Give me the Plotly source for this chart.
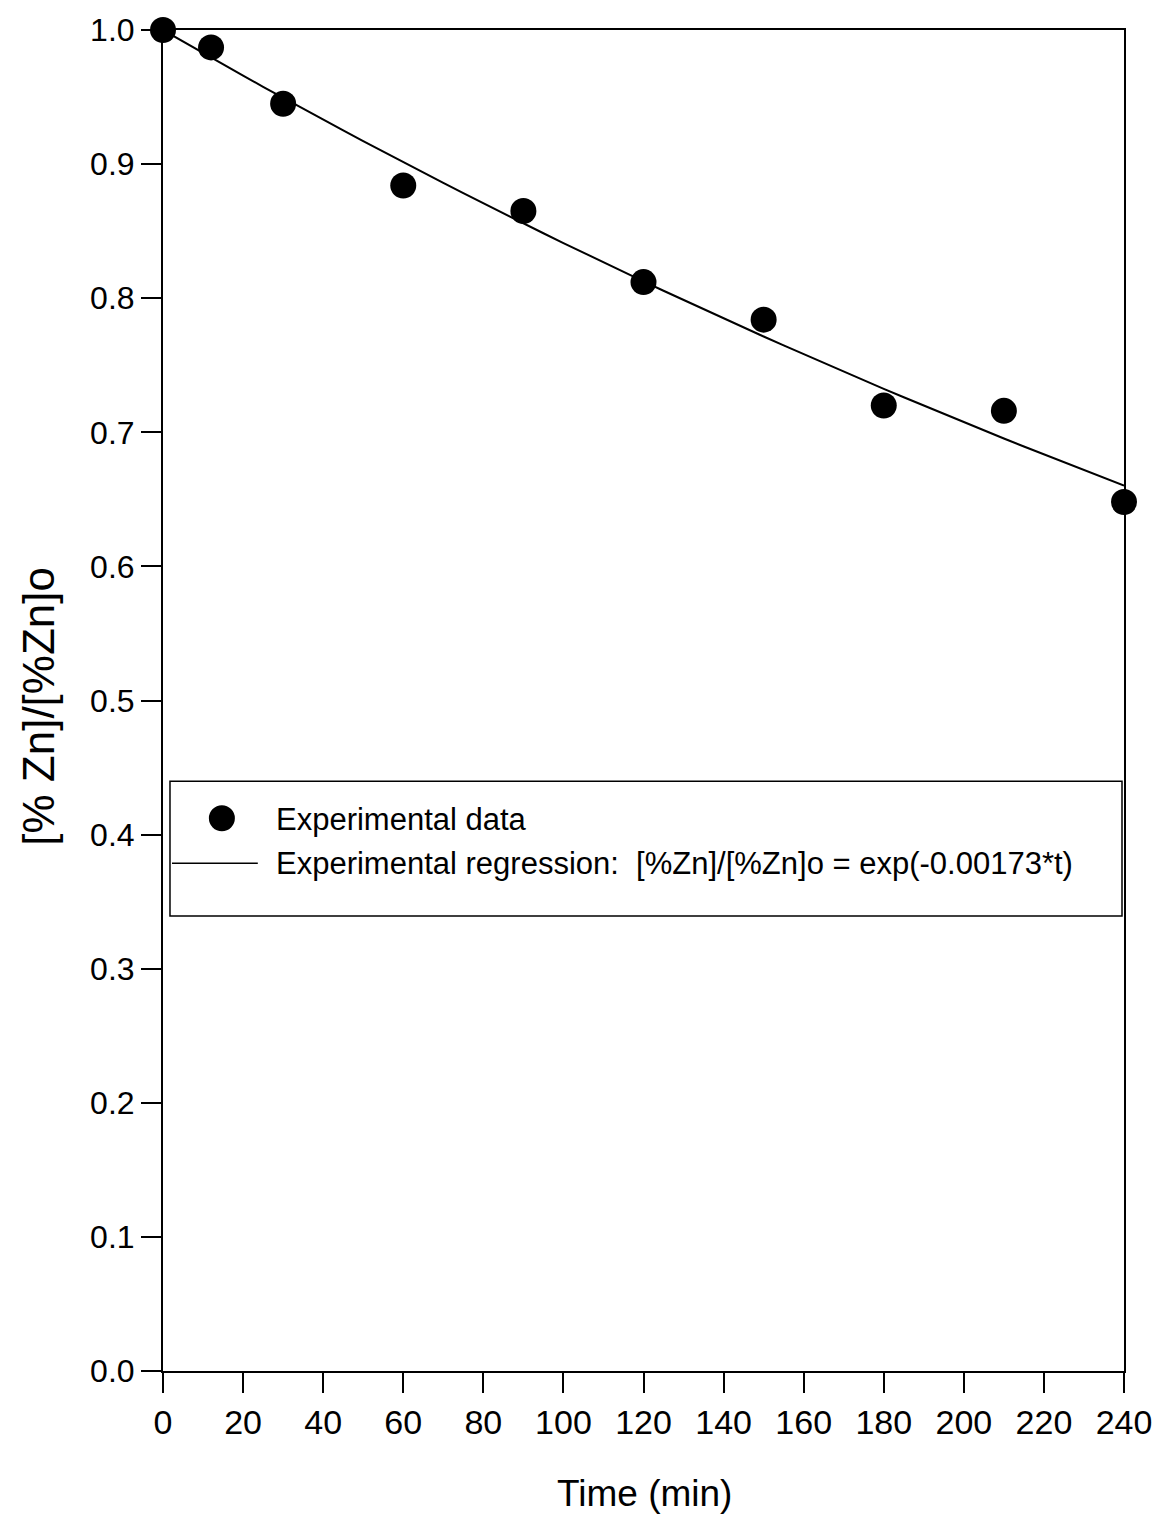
import numpy as np
import plotly.graph_objects as go

# Measured zinc fraction over time
time_min = [0, 12, 30, 60, 90, 120, 150, 180, 210, 240]
zn_ratio = [1.000, 0.987, 0.945, 0.884, 0.865, 0.812, 0.784, 0.720, 0.716, 0.648]

# First-order regression: [%Zn]/[%Zn]o = exp(-k*t)
k_rate = 0.00173
fit_t = np.arange(0, 241, 5)
fit_ratio = np.exp(-k_rate * fit_t)

x_ticks = list(range(0, 241, 20))
y_ticks = [round(0.1 * i, 1) for i in range(11)]

FONT = "Liberation Sans, Arial, sans-serif"

W, H = 1164, 1516
L, R, T, B = 163, 38, 27, 145
PW, PH = W - L - R, H - T - B


def px(x):
    return (x - L) / PW


def py(y):
    return (H - B - y) / PH


fig = go.Figure()

fig.add_trace(go.Scatter(
    x=fit_t, y=fit_ratio, mode="lines",
    line=dict(color="black", width=2),
    showlegend=False, cliponaxis=False,
))
fig.add_trace(go.Scatter(
    x=time_min, y=zn_ratio, mode="markers",
    marker=dict(color="black", size=26, line=dict(width=0)),
    showlegend=False, cliponaxis=False,
))

shapes = [
    # legend frame
    dict(type="rect", xref="paper", yref="paper",
         x0=px(170), x1=px(1124), y0=py(915), y1=py(780),
         line=dict(color="black", width=1.5), fillcolor="white", layer="below"),
    # legend key: marker
    dict(type="circle", xref="paper", yref="paper",
         xsizemode="pixel", ysizemode="pixel",
         xanchor=px(222), yanchor=py(817),
         x0=-13, x1=13, y0=-13, y1=13,
         fillcolor="black", line=dict(width=0)),
    # legend key: line
    dict(type="line", xref="paper", yref="paper",
         x0=px(172), x1=px(258), y0=py(862), y1=py(862),
         line=dict(color="black", width=1.5)),
]

annotations = [
    dict(text="Experimental data", xref="paper", yref="paper",
         x=px(274), y=py(818), xanchor="left", yanchor="middle",
         showarrow=False, font=dict(family=FONT, size=31, color="black")),
    dict(text="Experimental regression:  [%Zn]/[%Zn]o = exp(-0.00173*t)",
         xref="paper", yref="paper",
         x=px(274), y=py(862), xanchor="left", yanchor="middle",
         showarrow=False, font=dict(family=FONT, size=31, color="black")),
    dict(text="Time (min)", xref="paper", yref="paper",
         x=px(646), y=py(1494), xanchor="center", yanchor="middle",
         showarrow=False, font=dict(family=FONT, size=37, color="black")),
    dict(text="[% Zn]/[%Zn]o", xref="paper", yref="paper",
         x=px(38), y=py(705), xanchor="center", yanchor="middle",
         textangle=-90,
         showarrow=False, font=dict(family=FONT, size=44, color="black")),
]

fig.update_layout(
    width=W, height=H,
    margin=dict(l=L, r=R, t=T, b=B, pad=0),
    paper_bgcolor="white", plot_bgcolor="white",
    shapes=shapes, annotations=annotations,
    showlegend=False,
)

fig.update_xaxes(
    range=[0, 240], tickvals=x_ticks, ticktext=[str(v) for v in x_ticks],
    ticks="outside", ticklen=20, tickwidth=2, tickcolor="black",
    showline=True, linecolor="black", linewidth=2, mirror=True,
    showgrid=False, zeroline=False,
    tickfont=dict(family=FONT, size=34, color="black"),
)
fig.update_yaxes(
    range=[0, 1], tickvals=y_ticks, ticktext=[f"{v:.1f}" for v in y_ticks],
    ticks="outside", ticklen=20, tickwidth=2, tickcolor="black",
    showline=True, linecolor="black", linewidth=2, mirror=True,
    showgrid=False, zeroline=False,
    tickfont=dict(family=FONT, size=32, color="black"),
)

fig.write_html("out.html")
